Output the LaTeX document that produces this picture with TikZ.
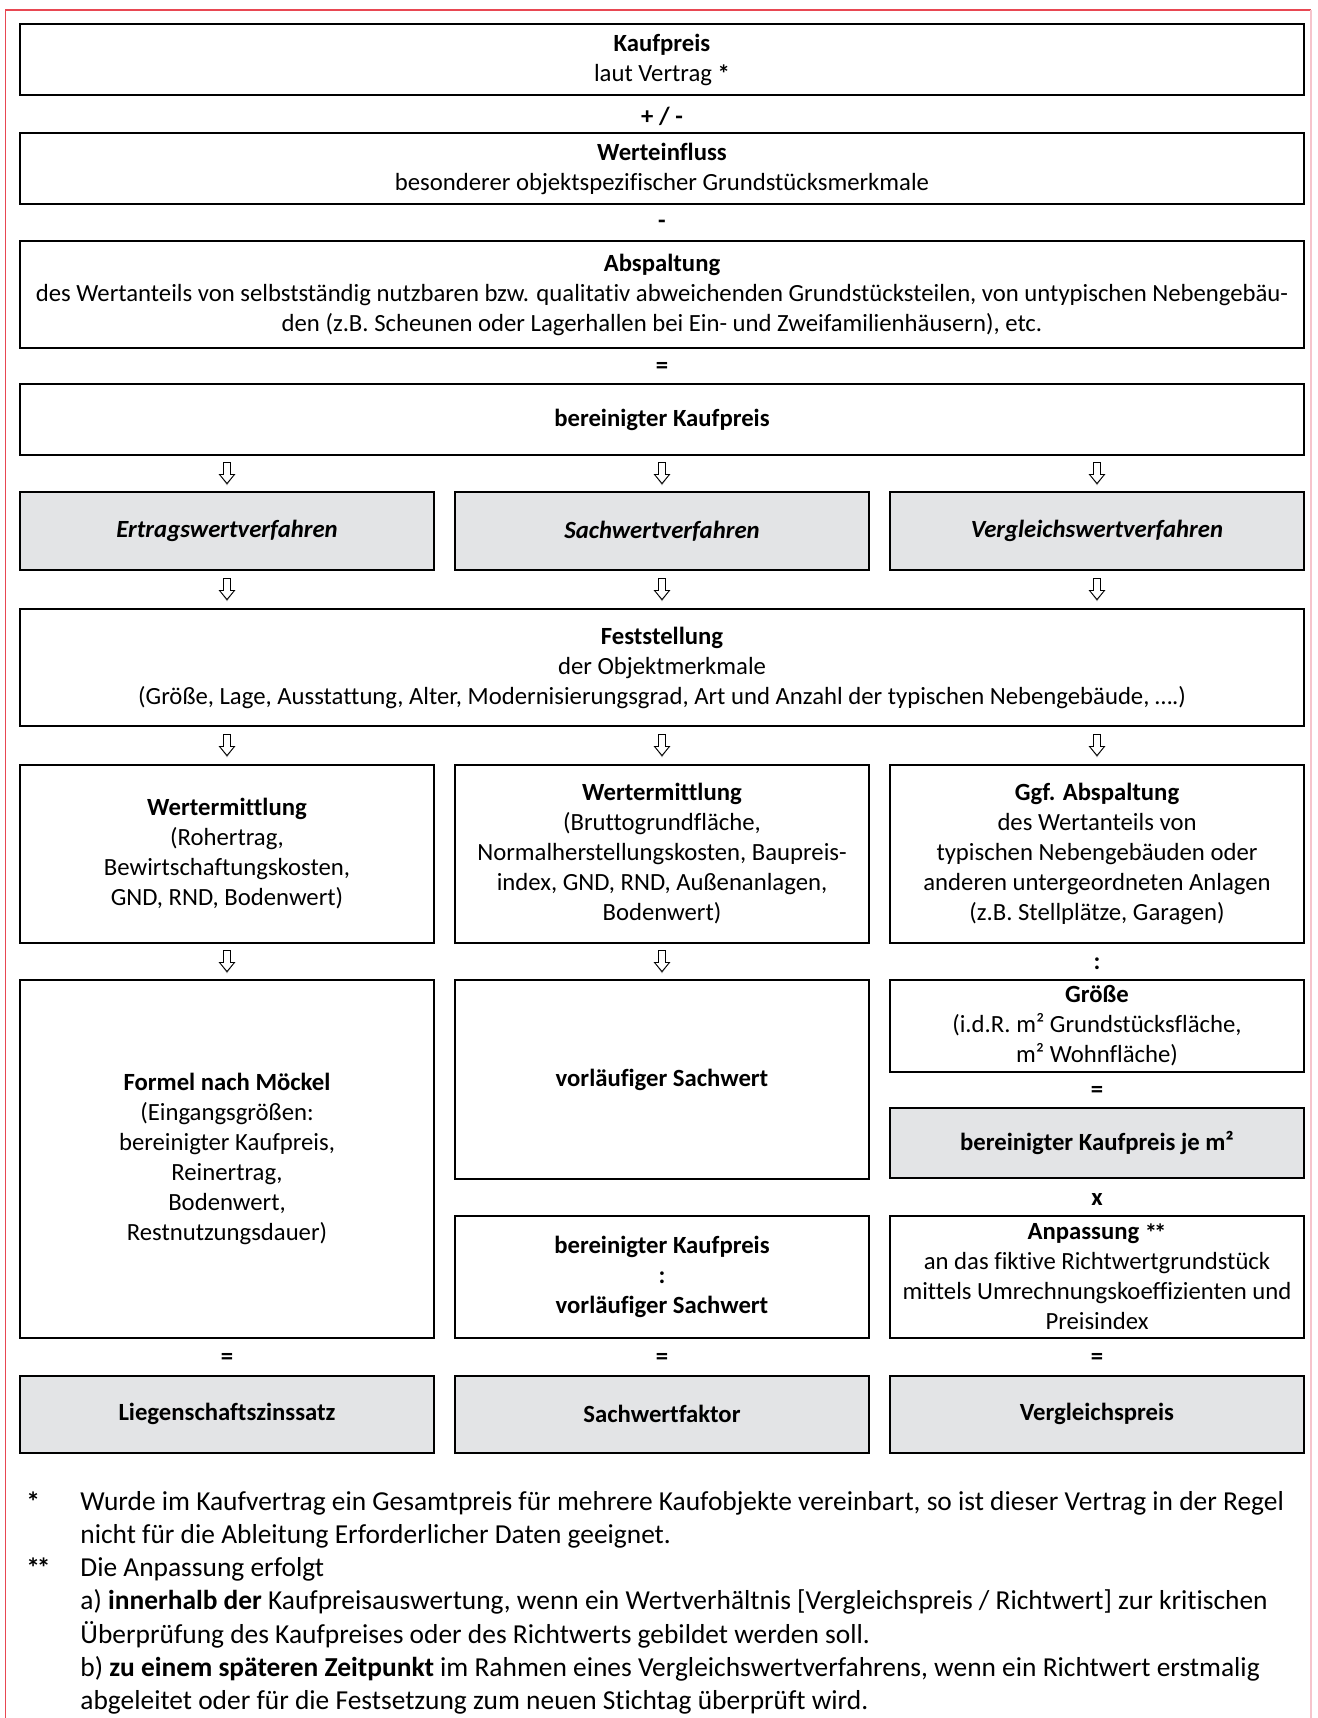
\documentclass[tikz,border=0pt]{standalone}
\usepackage{fontspec}
\setmainfont{Carlito}[Ligatures=NoCommon]
\usepackage{tikz}
\usetikzlibrary{calc}

\newlength\pxu
\setlength\pxu{0.445pt}
\definecolor{boxgrey}{RGB}{227,228,230}
\definecolor{framered}{RGB}{232,72,82}
\definecolor{framepink}{RGB}{246,196,204}
\newcommand{\astk}{\raisebox{-0.15ex}{\textbf{*}}}
\newcommand{\dastk}{\raisebox{-0.15ex}{\textbf{*\kern-0.12em*}}}

\tikzset{
  box/.style={draw, line width=0.9pt, align=center, inner sep=0pt,
    font=\fontsize{11}{13.35}\selectfont},
  wide/.style={box, minimum width=1284*\pxu},
  col/.style={box, minimum width=414*\pxu},
  shaded/.style={fill=boxgrey},
  op/.style={inner sep=0pt, font=\fontsize{11}{13.35}\selectfont\bfseries},
  foot/.style={inner sep=0pt, align=left, anchor=north west,
    font=\fontsize{12.2}{14.8}\selectfont},
  pics/downarr/.style={code={
    \fill[gray!65] (-6,3) -- (0,12) -- (6,3) -- cycle;
    \draw[fill=white, line width=0.4pt] (-3.5,-11) -- (3.5,-11) -- (3.5,1) -- (7.5,1)
      -- (0,10) -- (-7.5,1) -- (-3.5,1) -- cycle;
  }}
}

\begin{document}
\begin{tikzpicture}[x=0.445pt, y=-0.445pt]
    \useasboundingbox (0,0) rectangle (1317,1718);
    % frame
    \draw[framered, line width=0.6pt] (5.5,1718) -- (5.5,10) -- (1311,10);
    \draw[framepink, line width=0.6pt] (1311,10) -- (1311,1718);

    % top chain
    \node[wide, minimum height=71*\pxu] (kauf) at (662,59.5)
        {\textbf{Kaufpreis}\\laut Vertrag \astk};
    \node[wide, minimum height=71*\pxu] (einfl) at (662,168.5)
        {\textbf{Werteinfluss}\\besonderer objektspezifischer Grundstücksmerkmale};
    \node[wide, minimum height=107*\pxu] (absp) at (662,294.5)
        {\textbf{Abspaltung}\\des Wertanteils von selbstständig nutzbaren bzw. qualitativ abweichenden Grundstücksteilen, von untypischen Nebengebäu-\\den (z.B. Scheunen oder Lagerhallen bei Ein- und Zweifamilienhäusern), etc.};
    \node[wide, minimum height=71*\pxu] (berein) at (662,419.5)
        {\textbf{bereinigter Kaufpreis}};

    % methods
    \node[col, shaded, minimum height=78*\pxu] (ertrag) at (227,531)
        {\textbf{\textit{Ertragswertverfahren}}};
    \node[col, shaded, minimum height=78*\pxu] (sach) at (662,531)
        {\textbf{\textit{Sachwertverfahren}}};
    \node[col, shaded, minimum height=78*\pxu] (vergl) at (1097,531)
        {\textbf{\textit{Vergleichswertverfahren}}};

    \node[wide, minimum height=117*\pxu] (festst) at (662,667.5)
        {\textbf{Feststellung}\\der Objektmerkmale\\(Größe, Lage, Ausstattung, Alter, Modernisierungsgrad, Art und Anzahl der typischen Nebengebäude, ….)};

    % third row
    \node[col, minimum height=178*\pxu] (wertl) at (227,854)
        {\textbf{Wertermittlung}\\(Rohertrag,\\Bewirtschaftungskosten,\\GND, RND, Bodenwert)};
    \node[col, minimum height=178*\pxu] (wertm) at (662,854)
        {\textbf{Wertermittlung}\\(Bruttogrundfläche,\\Normalherstellungskosten, Baupreis-\\index, GND, RND, Außenanlagen,\\Bodenwert)};
    \node[col, minimum height=178*\pxu] (abspr) at (1097,854)
        {\textbf{Ggf. Abspaltung}\\des Wertanteils von\\typischen Nebengebäuden oder\\anderen untergeordneten Anlagen\\(z.B. Stellplätze, Garagen)};

    % fourth row
    \node[col, minimum height=358*\pxu] (moeckel) at (227,1159)
        {\textbf{Formel nach Möckel}\\(Eingangsgrößen:\\bereinigter Kaufpreis,\\Reinertrag,\\Bodenwert,\\Restnutzungsdauer)};
    \node[col, minimum height=199*\pxu] (vorl) at (662,1079.5)
        {\textbf{vorläufiger Sachwert}};
    \node[col, minimum height=122*\pxu, font=\fontsize{11}{13.35}\selectfont\bfseries] (quot) at (662,1277)
        {bereinigter Kaufpreis\\:\\vorläufiger Sachwert};
    \node[col, minimum height=92*\pxu] (groesse) at (1097,1026)
        {\textbf{Größe}\\(i.d.R. m² Grundstücksfläche,\\m² Wohnfläche)};
    \node[col, shaded, minimum height=70*\pxu] (jem) at (1097,1143)
        {\textbf{bereinigter Kaufpreis je m²}};
    \node[col, minimum height=122*\pxu] (anpass) at (1097,1277)
        {\textbf{Anpassung \dastk}\\an das fiktive Richtwertgrundstück\\mittels Umrechnungskoeffizienten und\\Preisindex};

    % results
    \node[col, shaded, minimum height=77*\pxu] (liegen) at (227,1414)
        {\textbf{Liegenschaftszinssatz}};
    \node[col, shaded, minimum height=77*\pxu] (sachf) at (662,1414)
        {\textbf{Sachwertfaktor}};
    \node[col, shaded, minimum height=77*\pxu] (vglp) at (1097,1414)
        {\textbf{Vergleichspreis}};

    % operators
    \foreach \up/\low/\sym/\nm in {kauf/einfl/{+ / -}/opa, einfl/absp/-/opb, absp/berein/=/opc,
        abspr/groesse/:/opd, groesse/jem/=/ope, jem/anpass/x/opf,
        moeckel/liegen/=/opg, quot/sachf/=/oph, anpass/vglp/=/opi}
        \node[op, yshift=-2*\pxu] (\nm) at ($(\up.south)!0.5!(\low.north)$) {\sym};

    % hollow arrows
    \foreach \up/\low in {berein/ertrag, berein/sach, berein/vergl, festst/wertl,
        festst/wertm, festst/abspr, wertl/moeckel, wertm/vorl}
        \pic at ($(\low.north)!0.5!(\low.north |- \up.south)$) {downarr};
    \foreach \up/\low in {ertrag/festst, sach/festst, vergl/festst}
        \pic at ($(\up.south)!0.5!(\up.south |- \low.north)$) {downarr};

    % footnotes
    \node[foot] (mka) at (26,1491) {\astk};
    \node[foot] (fna) at (80,1491)
        {Wurde im Kaufvertrag ein Gesamtpreis für mehrere Kaufobjekte vereinbart, so ist dieser Vertrag in der Regel\\nicht für die Ableitung Erforderlicher Daten geeignet.};
    \node[foot] (mkb) at (26,1557) {\dastk};
    \node[foot] (fnb) at (80,1557)
        {Die Anpassung erfolgt\\a) \textbf{innerhalb der} Kaufpreisauswertung, wenn ein Wertverhältnis [Vergleichspreis / Richtwert] zur kritischen\\Überprüfung des Kaufpreises oder des Richtwerts gebildet werden soll.\\b) \textbf{zu einem späteren Zeitpunkt} im Rahmen eines Vergleichswertverfahrens, wenn ein Richtwert erstmalig\\abgeleitet oder für die Festsetzung zum neuen Stichtag überprüft wird.};
\end{tikzpicture}
\end{document}
